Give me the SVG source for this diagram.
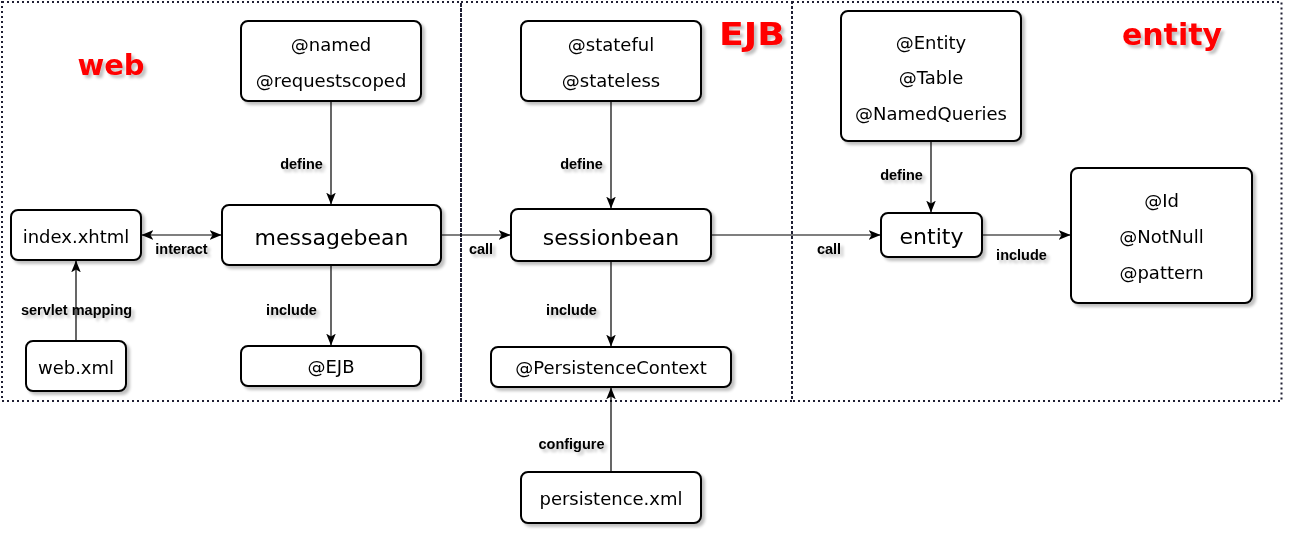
<svg xmlns="http://www.w3.org/2000/svg" width="1295" height="544" viewBox="0 0 1295 544">
<style>
.bg{fill:#ffffff}
.zone{fill:none;stroke:#1f1f33;stroke-width:2;stroke-dasharray:2 3}
.node rect{fill:#ffffff;stroke:#000000;stroke-width:2}
.nt{font-family:"DejaVu Sans","Noto Sans",sans-serif;font-size:18px;fill:#000;text-anchor:middle}
.big{font-size:22px}
.lbl{font-family:"Liberation Sans",Arial,sans-serif;font-weight:bold;font-size:14.5px;fill:#000;text-anchor:middle}
.title{font-family:"DejaVu Sans","Noto Sans",sans-serif;font-weight:bold;fill:#ff0000;text-anchor:middle}
.edge{fill:none;stroke:#000;stroke-width:1.2}
</style>
<defs>
<filter id="sh" x="-20%" y="-20%" width="140%" height="150%">
<feGaussianBlur in="SourceAlpha" stdDeviation="1.5"/>
<feOffset dx="3" dy="3" result="b"/>
<feComponentTransfer><feFuncA type="linear" slope="0.25"/></feComponentTransfer>
<feMerge><feMergeNode/><feMergeNode in="SourceGraphic"/></feMerge>
</filter>
<marker id="arr" viewBox="0 0 10 10" refX="9.5" refY="5" markerWidth="12" markerHeight="12" markerUnits="userSpaceOnUse" orient="auto-start-reverse">
<path d="M0,1 L10,5 L0,9 L2.5,5 Z" fill="#000"/>
</marker>
</defs>
<rect class="bg" x="0" y="0" width="1295" height="544"/>

<g id="zones">
<rect class="zone" x="2" y="2" width="459" height="399"/>
<rect class="zone" x="461" y="2" width="331" height="399"/>
<rect class="zone" x="792" y="2" width="489.5" height="399"/>
</g>

<g id="titles" filter="url(#sh)">
<text class="title" x="111" y="75" font-size="29">web</text>
<text class="title" x="752" y="45" font-size="32" textLength="66" lengthAdjust="spacingAndGlyphs">EJB</text>
<text class="title" x="1172" y="45" font-size="30">entity</text>
</g>

<g id="connectors">
<path class="edge" d="M331,101 V204" marker-end="url(#arr)"/>
<path class="edge" d="M331,265 V345" marker-end="url(#arr)"/>
<path class="edge" d="M142,235 H221" marker-start="url(#arr)" marker-end="url(#arr)"/>
<path class="edge" d="M76,341 V261" marker-end="url(#arr)"/>
<path class="edge" d="M441,235 H510" marker-end="url(#arr)"/>
<path class="edge" d="M611,101 V208" marker-end="url(#arr)"/>
<path class="edge" d="M611,261 V346" marker-end="url(#arr)"/>
<path class="edge" d="M611,472 V388" marker-end="url(#arr)"/>
<path class="edge" d="M711,235 H880" marker-end="url(#arr)"/>
<path class="edge" d="M931,141 V212" marker-end="url(#arr)"/>
<path class="edge" d="M982,235 H1070" marker-end="url(#arr)"/>
<g filter="url(#sh)">
<text class="lbl" x="301.5" y="169">define</text>
<text class="lbl" x="291.5" y="315">include</text>
<text class="lbl" x="181.5" y="254">interact</text>
<text class="lbl" x="76.5" y="315">servlet mapping</text>
<text class="lbl" x="481" y="254">call</text>
<text class="lbl" x="581.5" y="169">define</text>
<text class="lbl" x="571.5" y="315">include</text>
<text class="lbl" x="571.5" y="449">configure</text>
<text class="lbl" x="901.5" y="180">define</text>
<text class="lbl" x="829" y="254">call</text>
<text class="lbl" x="1021.5" y="260">include</text>
</g>
</g>

<g id="n-named" class="node" filter="url(#sh)">
<rect x="241" y="21" width="180" height="80" rx="7"/>
<text class="nt" x="331" y="51">@named</text>
<text class="nt" x="331" y="87">@requestscoped</text>
</g>
<g id="n-messagebean" class="node" filter="url(#sh)">
<rect x="222" y="205" width="219" height="60" rx="7"/>
<text class="nt big" x="331.5" y="245">messagebean</text>
</g>
<g id="n-index" class="node" filter="url(#sh)">
<rect x="11" y="210" width="130" height="50" rx="7"/>
<text class="nt" x="76" y="243">index.xhtml</text>
</g>
<g id="n-webxml" class="node" filter="url(#sh)">
<rect x="26" y="341" width="100" height="50" rx="7"/>
<text class="nt" x="76" y="374">web.xml</text>
</g>
<g id="n-ejb" class="node" filter="url(#sh)">
<rect x="241" y="346" width="180" height="40" rx="7"/>
<text class="nt" x="331" y="373">@EJB</text>
</g>
<g id="n-stateful" class="node" filter="url(#sh)">
<rect x="521" y="21" width="180" height="80" rx="7"/>
<text class="nt" x="611" y="51">@stateful</text>
<text class="nt" x="611" y="87">@stateless</text>
</g>
<g id="n-sessionbean" class="node" filter="url(#sh)">
<rect x="511" y="209" width="200" height="52" rx="7"/>
<text class="nt big" x="611" y="245">sessionbean</text>
</g>
<g id="n-pc" class="node" filter="url(#sh)">
<rect x="491" y="347" width="240" height="40" rx="7"/>
<text class="nt" x="611" y="374">@PersistenceContext</text>
</g>
<g id="n-persistence" class="node" filter="url(#sh)">
<rect x="521" y="472" width="180" height="51" rx="7"/>
<text class="nt" x="611" y="505">persistence.xml</text>
</g>
<g id="n-annot" class="node" filter="url(#sh)">
<rect x="841" y="11" width="180" height="130" rx="7"/>
<text class="nt" x="931" y="49">@Entity</text>
<text class="nt" x="931" y="84">@Table</text>
<text class="nt" x="931" y="120">@NamedQueries</text>
</g>
<g id="n-entity" class="node" filter="url(#sh)">
<rect x="881" y="213" width="101" height="44" rx="7"/>
<text class="nt big" x="931.5" y="244">entity</text>
</g>
<g id="n-fields" class="node" filter="url(#sh)">
<rect x="1071" y="168" width="181" height="135" rx="7"/>
<text class="nt" x="1161.5" y="207">@Id</text>
<text class="nt" x="1161.5" y="243">@NotNull</text>
<text class="nt" x="1161.5" y="279">@pattern</text>
</g>
</svg>
